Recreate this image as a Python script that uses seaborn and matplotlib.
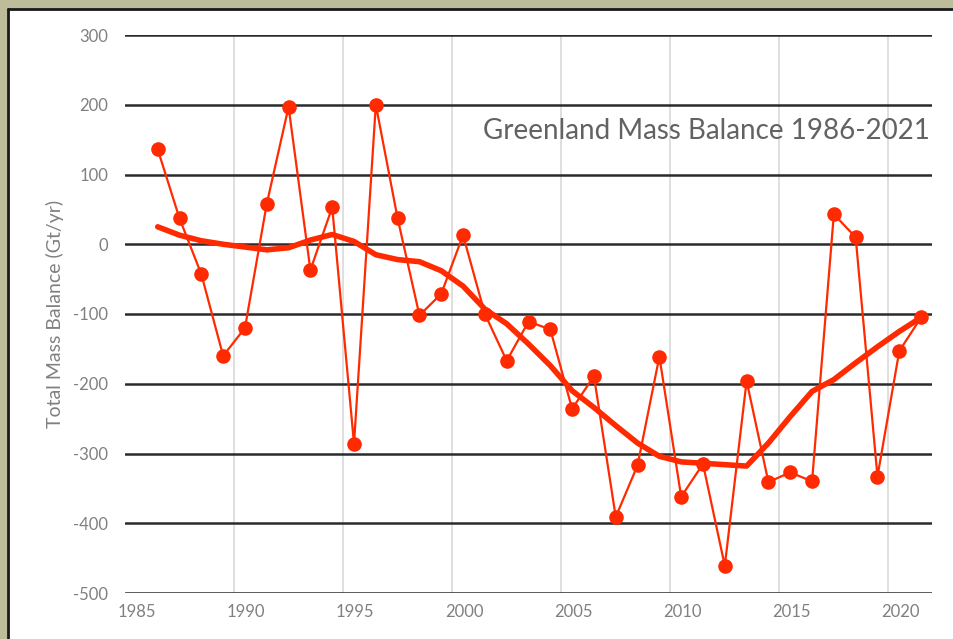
import matplotlib
matplotlib.use("Agg")
import matplotlib.pyplot as plt
import matplotlib.patches as mpatches
from matplotlib.transforms import ScaledTranslation
import seaborn as sns
import numpy as np
import pandas as pd

# Greenland total mass balance, Gt/yr
years = list(range(1986, 2022))
mass_balance = [
    136, 37, -43, -160, -120, 58, 197, -37, 53, -286,
    200, 37, -102, -71, 13, -100, -167, -111, -122, -236,
    -189, -391, -317, -161, -362, -315, -461, -196, -341, -327,
    -340, 43, 10, -333, -153, -105,
]
# smoothed trend line
trend = [
    25, 13, 5, 0, -4, -8, -5, 6, 14, 4,
    -15, -22, -25, -38, -60, -93, -114, -143, -174, -210,
    -234, -260, -285, -304, -312, -314, -316, -318, -285, -247,
    -211, -194, -170, -147, -125, -105,
]
y_ticks = [300, 200, 100, 0, -100, -200, -300, -400, -500]
x_ticks = [1985, 1990, 1995, 2000, 2005, 2010, 2015, 2020]

# values are annual, plotted at mid-year
df = pd.DataFrame({
    "year": np.array(years) + 0.5,
    "balance": mass_balance,
    "trend": trend,
})

sns.set_theme(style="white")
plt.rcParams["font.family"] = ["Lato", "DejaVu Sans"]
plt.rcParams["axes.unicode_minus"] = False

red = "#ff2a00"
grey_text = "#808080"

fig = plt.figure(figsize=(9.54, 6.39), dpi=100)
fig.patch.set_facecolor("#bdbd9b")

# white panel with dark frame on top and left
panel = mpatches.Rectangle((8 / 954, 0), 1, 1 - 9 / 639, transform=fig.transFigure,
                           facecolor="white", edgecolor="none", zorder=-10)
fig.patches.append(panel)
fig.lines.append(plt.Line2D([8 / 954, 1], [1 - 9 / 639] * 2, transform=fig.transFigure,
                            color="#1a1a1a", linewidth=2, zorder=-5))
fig.lines.append(plt.Line2D([8 / 954] * 2, [0, 1 - 9 / 639], transform=fig.transFigure,
                            color="#1a1a1a", linewidth=2, zorder=-5))

ax = fig.add_axes([125 / 954, 1 - 593 / 639, 807 / 954, 558 / 639])
ax.set_zorder(1)
ax.set_facecolor("none")

sns.lineplot(data=df, x="year", y="balance", color=red, linewidth=1.6,
             marker="o", markersize=10.5, markeredgewidth=0, ax=ax, zorder=3)
sns.lineplot(data=df, x="year", y="trend", color=red, linewidth=4,
             ax=ax, zorder=4)

ax.set_xlim(1985, 2022)
ax.set_ylim(-500, 300)
ax.set_xticks(x_ticks)
ax.set_yticks(y_ticks)

# Excel style grid: dark horizontals, light verticals
for v in y_ticks:
    ax.axhline(v, color="#2b2b2b", linewidth=1.8, zorder=1)
for v in x_ticks[1:]:
    ax.axvline(v, color="#dcdcdc", linewidth=1.3, zorder=0.5)

for s in ax.spines.values():
    s.set_visible(False)

ax.tick_params(axis="both", length=0, labelsize=12, labelcolor=grey_text)
ax.tick_params(axis="y", pad=12)
ax.tick_params(axis="x", pad=8)
for lab in ax.get_xticklabels():
    lab.set_transform(lab.get_transform() + ScaledTranslation(0.12, 0, fig.dpi_scale_trans))

ax.set_xlabel("")
ax.set_ylabel("Total Mass Balance (Gt/yr)", fontsize=14, color=grey_text)
ax.yaxis.set_label_coords(-0.076, 0.5)

ax.text(0.997, 0.828, "Greenland Mass Balance 1986-2021", transform=ax.transAxes,
        ha="right", va="center", fontsize=20, color="#626262", zorder=5)

fig.savefig("out.png", dpi=100, facecolor=fig.get_facecolor())
